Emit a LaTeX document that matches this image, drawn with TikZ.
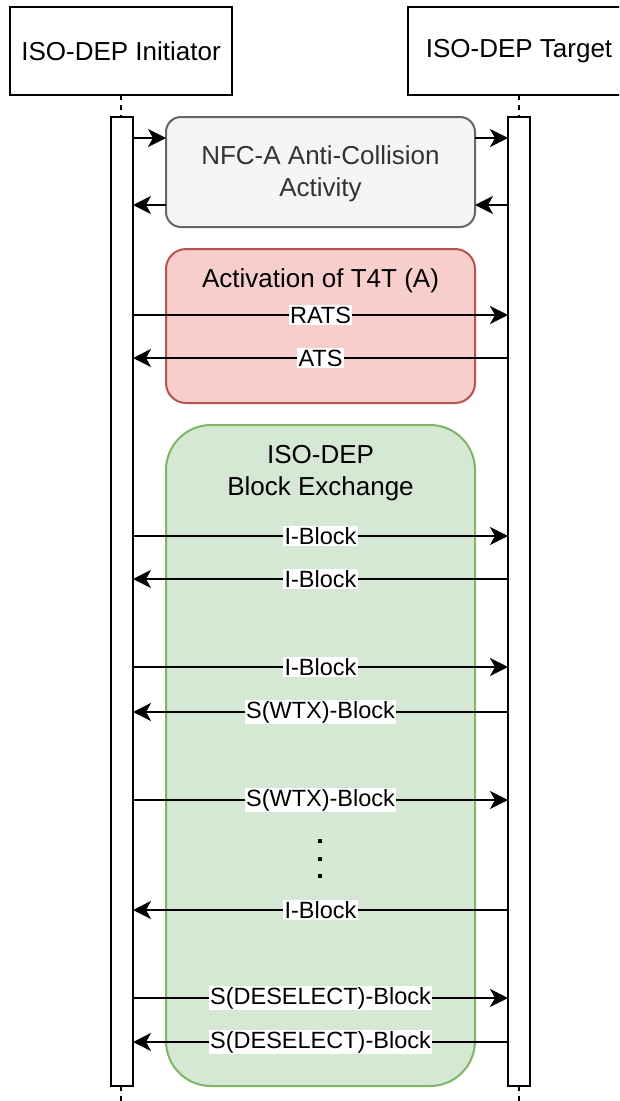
\documentclass[tikz,border=0pt]{standalone}
\usepackage{fontspec}
\setmainfont{Liberation Sans}
\usetikzlibrary{arrows.meta}
\definecolor{grayfill}{HTML}{F5F5F5}
\definecolor{grayline}{HTML}{666666}
\definecolor{graytext}{HTML}{333333}
\definecolor{redfill}{HTML}{F8CECC}
\definecolor{redline}{HTML}{B85450}
\definecolor{greenfill}{HTML}{D5E8D4}
\definecolor{greenline}{HTML}{82B366}
\begin{document}
\begin{tikzpicture}[x=1pt,y=-1pt,
  every node/.style={inner sep=0pt,outer sep=0pt},
  actor/.style={draw,line width=2pt,fill=white,minimum width=222pt,minimum height=88pt,
    font=\fontsize{26}{31}\selectfont},
  bar/.style={draw,line width=2pt,fill=white,minimum width=22pt,minimum height=969pt},
  phase/.style={line width=2pt,minimum width=309pt},
  msg/.style={line width=2pt,-{Stealth[length=18pt,width=18pt,inset=5pt]}},
  lbl/.style={fill=white,inner sep=1.5pt,font=\fontsize{23.5}{27}\selectfont},
  life/.style={line width=1.5pt,dash pattern=on 5pt off 5pt},
  title/.style={align=center,font=\fontsize{26}{31.5}\selectfont},
  dot/.style={fill=black,minimum size=4pt}
]
\clip (0,0) rectangle (619,1101);
\fill[white] (0,0) rectangle (619,1101);

% participants
\node[actor] (ini) at (121,51) {ISO-DEP Initiator};
\node[actor] (tgt) at (519,51) {ISO-DEP Target};

% activation bars
\node[bar] (lbar) at (122,601.5) {};
\node[bar] (rbar) at (519,601.5) {};
\coordinate (lend) at (121,1101);
\coordinate (rend) at (519,1101);
\draw[life] (ini.south) -- (ini.south |- lbar.north);
\draw[life] (tgt.south) -- (tgt.south |- rbar.north);
\draw[life] (lbar.south -| ini.south) -- (lend);
\draw[life] (rbar.south -| tgt.south) -- (rend);

% phases
\node[phase,draw=grayline,fill=grayfill,rounded corners=15pt,minimum height=110pt]
  (anti) at (320.5,172) {};
\node[title,text=graytext] (antitxt) at (320.5,174) {NFC-A Anti-Collision\\[1pt]Activity};
\node[phase,draw=redline,fill=redfill,rounded corners=20pt,minimum height=154pt]
  (act) at (320.5,326) {};
\node[title] (acttxt) at (320.5,281) {Activation of T4T (A)};
\node[phase,draw=greenline,fill=greenfill,rounded corners=45pt,minimum height=661pt]
  (blk) at (320.5,755.5) {};
\node[title] (blktxt) at (320.5,473) {ISO-DEP\\Block Exchange};

% anti-collision exchange
\draw[msg] (lbar.east |- 0,138) -- (anti.west |- 0,138);
\draw[msg] (anti.east |- 0,138) -- (rbar.west |- 0,138);
\draw[msg] (anti.west |- 0,205) -- (lbar.east |- 0,205);
\draw[msg] (rbar.west |- 0,205) -- (anti.east |- 0,205);

% activation
\draw[msg] (lbar.east |- 0,315) -- node[lbl]{RATS} (rbar.west |- 0,315);
\draw[msg] (rbar.west |- 0,358) -- node[lbl]{ATS} (lbar.east |- 0,358);

% block exchange
\draw[msg] (lbar.east |- 0,536) -- node[lbl]{I-Block} (rbar.west |- 0,536);
\draw[msg] (rbar.west |- 0,579) -- node[lbl]{I-Block} (lbar.east |- 0,579);
\draw[msg] (lbar.east |- 0,667) -- node[lbl]{I-Block} (rbar.west |- 0,667);
\draw[msg] (rbar.west |- 0,712) -- node[lbl]{S(WTX)-Block} (lbar.east |- 0,712);
\draw[msg] (lbar.east |- 0,800) -- node[lbl]{S(WTX)-Block} (rbar.west |- 0,800);
\node[dot] (d1) at (320,841) {};
\node[dot] (d2) at (320,858.5) {};
\node[dot] (d3) at (320,876) {};
\draw[msg] (rbar.west |- 0,910) -- node[lbl]{I-Block} (lbar.east |- 0,910);
\draw[msg] (lbar.east |- 0,998) -- node[lbl]{S(DESELECT)-Block} (rbar.west |- 0,998);
\draw[msg] (rbar.west |- 0,1042) -- node[lbl]{S(DESELECT)-Block} (lbar.east |- 0,1042);
\end{tikzpicture}
\end{document}
